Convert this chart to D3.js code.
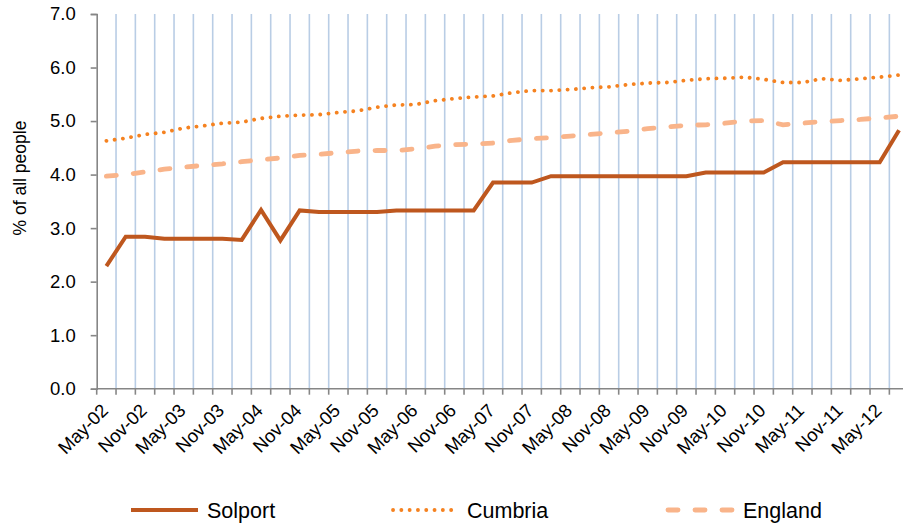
<!DOCTYPE html>
<html><head><meta charset="utf-8">
<script src="https://cdn.jsdelivr.net/npm/d3@7"></script>
<style>
html,body{margin:0;padding:0;background:#fff;}
text{font-family:"Liberation Sans",Arial,sans-serif;fill:#000;}
</style></head>
<body><svg id="chart" width="903" height="526"></svg>
<script>
const categories = ["May-02","Aug-02","Nov-02","Feb-03","May-03","Aug-03","Nov-03","Feb-04","May-04","Aug-04","Nov-04","Feb-05","May-05","Aug-05","Nov-05","Feb-06","May-06","Aug-06","Nov-06","Feb-07","May-07","Aug-07","Nov-07","Feb-08","May-08","Aug-08","Nov-08","Feb-09","May-09","Aug-09","Nov-09","Feb-10","May-10","Aug-10","Nov-10","Feb-11","May-11","Aug-11","Nov-11","Feb-12","May-12","Aug-12"];
const solport = [2.29,2.84,2.84,2.80,2.80,2.80,2.80,2.78,3.34,2.77,3.33,3.30,3.30,3.30,3.30,3.33,3.33,3.33,3.33,3.33,3.85,3.85,3.85,3.97,3.97,3.97,3.97,3.97,3.97,3.97,3.97,4.04,4.04,4.04,4.04,4.23,4.23,4.23,4.23,4.23,4.23,4.83];
const cumbria = [4.63,4.68,4.75,4.79,4.87,4.91,4.96,4.98,5.05,5.09,5.11,5.12,5.16,5.19,5.26,5.30,5.31,5.38,5.42,5.45,5.47,5.53,5.57,5.57,5.59,5.62,5.64,5.68,5.71,5.72,5.76,5.79,5.80,5.82,5.78,5.72,5.72,5.79,5.76,5.79,5.82,5.86];
const england = [3.97,4.00,4.05,4.10,4.14,4.17,4.20,4.24,4.28,4.31,4.36,4.38,4.41,4.44,4.45,4.45,4.48,4.53,4.56,4.57,4.59,4.64,4.67,4.69,4.72,4.75,4.78,4.81,4.86,4.89,4.92,4.93,4.96,5.00,5.01,4.93,4.96,4.99,5.01,5.03,5.06,5.09];
const yTicks = [0,1,2,3,4,5,6,7];
const seriesNames = ["Solport","Cumbria","England"];

const svg = d3.select("#chart");
const x = d3.scaleBand().domain(categories).range([96.7, 908.7]).padding(0);
const y = d3.scaleLinear().domain([0,7]).range([388.7, 14]);
const cx = c => x(c) + x.bandwidth()/2;

// gridlines at category boundaries
svg.append("g").selectAll("line").data(categories.slice(1)).join("line")
  .attr("x1", d => x(d)).attr("x2", d => x(d))
  .attr("y1", y(7)).attr("y2", y(0))
  .attr("stroke", "#B9CDE5").attr("stroke-width", 1.6);

// y axis
const yAxis = svg.append("g").attr("transform", "translate(96.7,0)")
  .call(d3.axisLeft(y).tickValues(yTicks).tickFormat(d3.format(".1f")).tickSize(6).tickPadding(15));
yAxis.select(".domain").attr("stroke", "#868686").attr("stroke-width", 1.6);
yAxis.selectAll(".tick line").attr("stroke", "#868686").attr("stroke-width", 1.6);
yAxis.selectAll(".tick text").attr("font-size", 18.5).attr("font-family", "Liberation Sans, Arial, sans-serif").attr("fill","#000");

// x axis line and ticks
svg.append("line").attr("x1", 96.7).attr("x2", 903).attr("y1", y(0)).attr("y2", y(0))
  .attr("stroke", "#868686").attr("stroke-width", 1.6);
svg.append("g").selectAll("line").data(categories).join("line")
  .attr("x1", d => x(d)).attr("x2", d => x(d))
  .attr("y1", y(0)).attr("y2", y(0) + 6)
  .attr("stroke", "#868686").attr("stroke-width", 1.6);

// x labels every other category
svg.append("g").selectAll("text").data(categories.filter((d,i) => i % 2 === 0)).join("text")
  .attr("transform", d => `translate(${cx(d) + 3},${y(0) + 23}) rotate(-45)`)
  .attr("text-anchor", "end")
  .attr("font-size", 18.5)
  .text(d => d);

// y title
svg.append("text").attr("transform", "translate(26,178) rotate(-90)")
  .attr("text-anchor", "middle").attr("font-size", 17.5).text("% of all people");

const line = d3.line().x((d,i) => cx(categories[i])).y(d => y(d));

svg.append("path").datum(england).attr("d", line).attr("fill","none")
  .attr("stroke", "#F9B48A").attr("stroke-width", 4.8)
  .attr("stroke-dasharray", "10,17").attr("stroke-linecap", "round");
svg.append("path").datum(cumbria).attr("d", line).attr("fill","none")
  .attr("stroke", "#F58220").attr("stroke-width", 3.8)
  .attr("stroke-dasharray", "0.1,8.2").attr("stroke-linecap", "round");
svg.append("path").datum(solport).attr("d", line).attr("fill","none")
  .attr("stroke", "#BE571E").attr("stroke-width", 4).attr("stroke-linejoin","miter");

// legend
const legend = [
  {name: seriesNames[0], x1: 131, x2: 198, tx: 207, color: "#BE571E", w: 4, dash: null},
  {name: seriesNames[1], x1: 393, x2: 452, tx: 467, color: "#F58220", w: 3.8, dash: "0.1,8.2"},
  {name: seriesNames[2], x1: 668, x2: 736, tx: 743, color: "#F9B48A", w: 4.8, dash: "10,17"}
];
const lg = svg.append("g").selectAll("g").data(legend).join("g");
lg.append("line").attr("x1", d => d.x1).attr("x2", d => d.x2).attr("y1", 510).attr("y2", 510)
  .attr("stroke", d => d.color).attr("stroke-width", d => d.w)
  .attr("stroke-dasharray", d => d.dash).attr("stroke-linecap", d => d.dash ? "round" : "butt");
lg.append("text").attr("x", d => d.tx).attr("y", 518).attr("font-size", 21.5).text(d => d.name);
</script></body></html>
